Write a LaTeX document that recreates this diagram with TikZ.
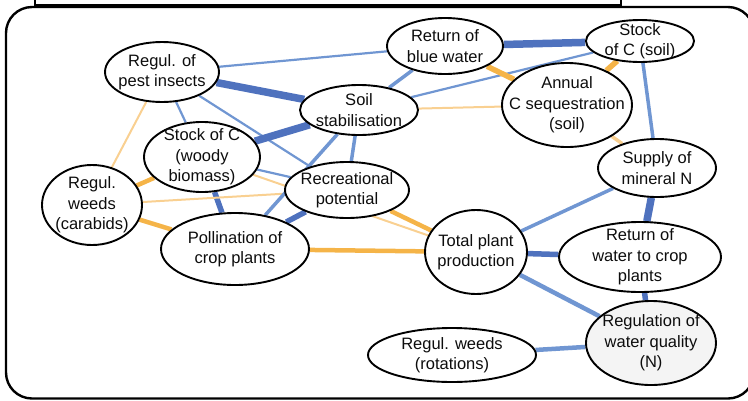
\documentclass[tikz,border=0pt]{standalone}
\usepackage{fontspec}
\setmainfont{Liberation Sans}
\usetikzlibrary{shapes.geometric,backgrounds}
\definecolor{esBlue}{RGB}{79,114,190}
\definecolor{esBlueLt}{RGB}{112,150,210}
\definecolor{esOrange}{RGB}{245,180,72}
\definecolor{esOrangeLt}{RGB}{249,208,145}
\begin{document}
\begin{tikzpicture}[x=1pt,y=-1pt]%
  \tikzset{
    es/.style={ellipse,draw=black,line width=1.9pt,inner sep=0pt},
    estext/.style={align=center,font=\fontsize{16.5}{20.5}\selectfont,text=black!95},
    b7/.style={line width=7.5pt,esBlue},
    b5/.style={line width=5.5pt,esBlue},
    b4/.style={line width=4.5pt,esBlueLt},
    b3/.style={line width=3.5pt,esBlueLt},
    b2/.style={line width=2.2pt,esBlueLt},
    o5/.style={line width=5.5pt,esOrange},
    o4/.style={line width=4.5pt,esOrange},
    o3/.style={line width=3.5pt,esOrangeLt},
    o2/.style={line width=2pt,esOrangeLt}
  }
  \useasboundingbox (0,0) rectangle (748,400);

% define service (#name, #x, #y, #width, #height, #fill, #text)
  \def\service(#1,#2,#3,#4,#5,#6,#7){
    \node[es,fill=#6,minimum width=#4pt,minimum height=#5pt] (#1) at (#2,#3) {};
    \node[estext] (#1-t) at (#1) {#7};}

  % frame
  \draw[line width=2.4pt] (35,-5) -- (35,5) -- (621,5) -- (621,-5);
  \draw[line width=2.4pt,rounded corners=26pt] (6,7) rectangle (754,398.5);

  \service(pest,162,72,114,60,white,{Regul. of\\pest insects})
  \service(soil,359,110,118,50,white,{Soil\\stabilisation})
  \service(blue,445,46,116,56,white,{Return of\\blue water})
  \service(stockc,640,41,108,42,white,{Stock\\of C (soil)})
  \service(annual,567,105,130,84,white,{Annual\\C sequestration\\(soil)})
  \service(supn,657,168,118,58,white,{Supply of\\mineral N})
  \service(woody,202,157,116,70,white,{Stock of C\\(woody\\biomass)})
  \service(carab,92,205,100,80,white,{Regul.\\weeds\\(carabids)})
  \service(recr,347,190,124,56,white,{Recreational\\potential})
  \service(poll,235,249,148,72,white,{Pollination of\\crop plants})
  \service(total,476,252,102,84,white,{Total plant\\production})
  \service(water,640,257,162,70,white,{Return of\\water to crop\\plants})
  \service(quality,651,343,130,84,gray!9,{Regulation of\\water quality\\(N)})
  \service(rot,452,355,168,54,white,{Regul. weeds\\(rotations)})

  % links
  \begin{pgfonlayer}{background}
    \foreach \a/\b/\s in {pest/blue/b2, pest/soil/b7, pest/woody/b2, pest/recr/b2,
      pest/carab/o2, woody/soil/b7, woody/recr/b2, woody/carab/o4, woody/poll/b5,
      woody/total/o2, carab/recr/o2, carab/poll/o4, poll/soil/b3, poll/recr/b5,
      poll/total/o4, recr/soil/b3, recr/total/o4, soil/blue/b3, soil/stockc/b2,
      soil/annual/o2, blue/stockc/b7, blue/annual/o5, stockc/annual/o5,
      stockc/supn/b3, annual/supn/o3, supn/total/b3, supn/water/b7,
      total/water/b5, total/quality/b4, water/quality/b5, rot/quality/b4}
      \draw[\s] (\a) -- (\b);
  \end{pgfonlayer}
\end{tikzpicture}
\end{document}
